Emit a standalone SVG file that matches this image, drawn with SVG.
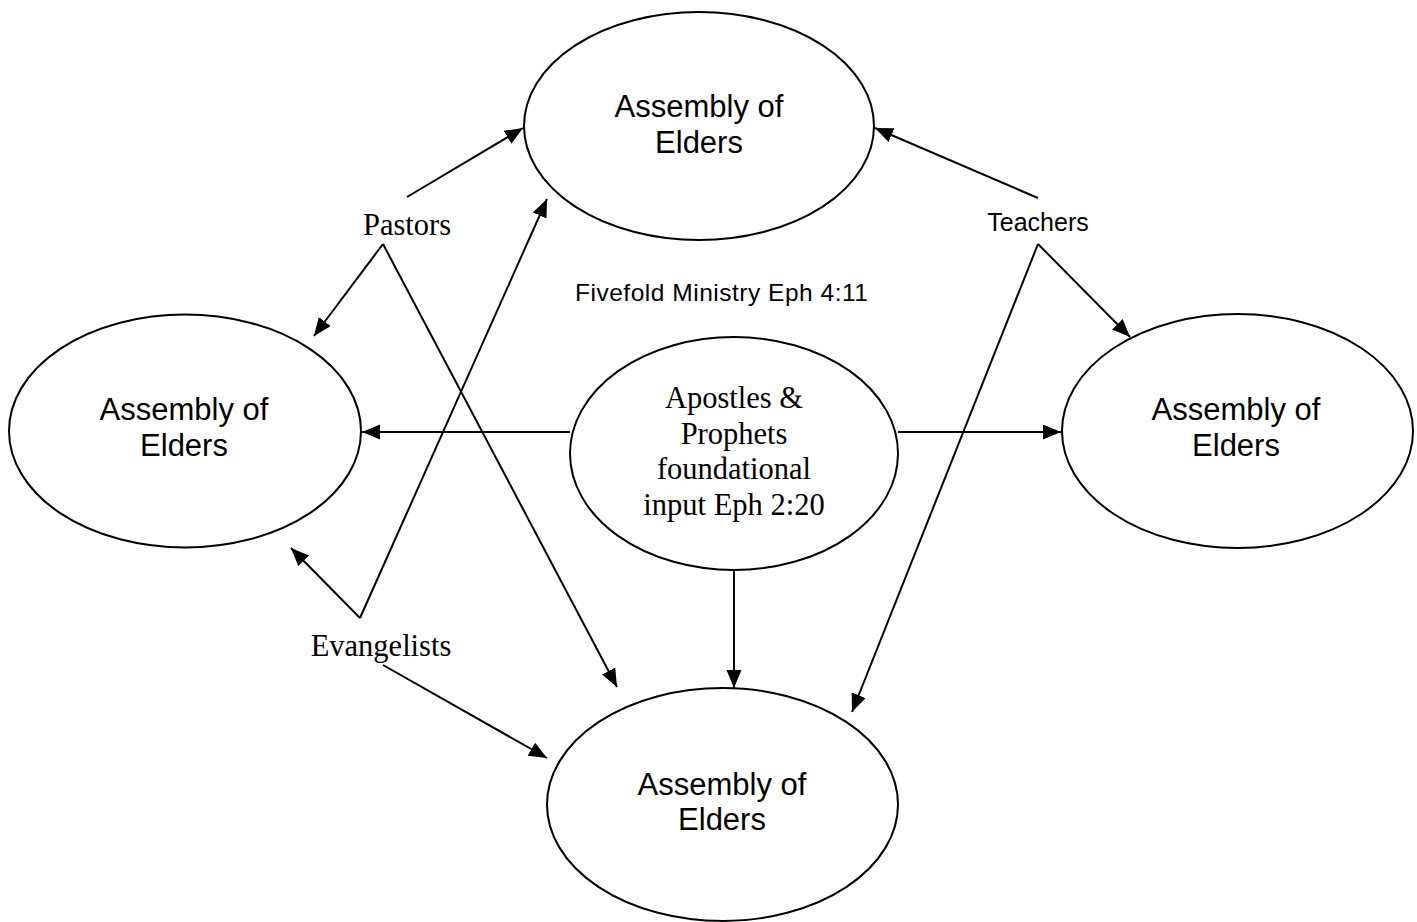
<svg xmlns="http://www.w3.org/2000/svg" width="1417" height="922" viewBox="0 0 1417 922">
<style>
.node ellipse{fill:#fff;stroke:#000;stroke-width:2}
.sans{font-family:"Liberation Sans",Arial,sans-serif;fill:#000}
.serif{font-family:"Liberation Serif","Times New Roman",serif;fill:#000}
.big{font-size:31px}
.lbl{font-size:30.5px}
#connectors line{stroke:#000;stroke-width:2;fill:none}
</style>
<defs>
<marker id="ah" markerUnits="userSpaceOnUse" markerWidth="20" markerHeight="16" refX="18" refY="7.5" orient="auto">
<path d="M0,0 L18,7.5 L0,15 z" fill="#000"/>
</marker>
</defs>
<rect width="1417" height="922" fill="#fff"/>
<g id="connectors">
<line x1="570" y1="432" x2="362" y2="432" marker-end="url(#ah)"/>
<line x1="898" y1="432" x2="1061" y2="432" marker-end="url(#ah)"/>
<line x1="734" y1="570" x2="734" y2="688" marker-end="url(#ah)"/>
<line x1="407" y1="197" x2="523" y2="128" marker-end="url(#ah)"/>
<line x1="383" y1="244" x2="314" y2="336" marker-end="url(#ah)"/>
<line x1="383" y1="244" x2="617" y2="687" marker-end="url(#ah)"/>
<line x1="360" y1="618" x2="291" y2="548" marker-end="url(#ah)"/>
<line x1="360" y1="618" x2="547" y2="199" marker-end="url(#ah)"/>
<line x1="383" y1="665" x2="547" y2="758" marker-end="url(#ah)"/>
<line x1="1038" y1="198" x2="875" y2="128" marker-end="url(#ah)"/>
<line x1="1038" y1="244" x2="1130" y2="337" marker-end="url(#ah)"/>
<line x1="1038" y1="244" x2="852" y2="712" marker-end="url(#ah)"/>
</g>
<g id="node-top" class="node">
<ellipse cx="699" cy="126" rx="175" ry="114"/>
<text class="sans big" x="699" y="117" text-anchor="middle">Assembly of</text>
<text class="sans big" x="699" y="153" text-anchor="middle">Elders</text>
</g>
<g id="node-left" class="node">
<ellipse cx="185" cy="431" rx="176" ry="116.5"/>
<text class="sans big" x="184" y="420" text-anchor="middle">Assembly of</text>
<text class="sans big" x="184" y="456" text-anchor="middle">Elders</text>
</g>
<g id="node-right" class="node">
<ellipse cx="1237.5" cy="431" rx="175.5" ry="117"/>
<text class="sans big" x="1236" y="420" text-anchor="middle">Assembly of</text>
<text class="sans big" x="1236" y="456" text-anchor="middle">Elders</text>
</g>
<g id="node-bottom" class="node">
<ellipse cx="722.5" cy="804.5" rx="175.5" ry="116.5"/>
<text class="sans big" x="722" y="795" text-anchor="middle">Assembly of</text>
<text class="sans big" x="722" y="830" text-anchor="middle">Elders</text>
</g>
<g id="node-center" class="node">
<ellipse cx="734" cy="453.5" rx="164" ry="116.5"/>
<text class="serif lbl" x="734" y="408" text-anchor="middle">Apostles &amp;</text>
<text class="serif lbl" x="734" y="444" text-anchor="middle">Prophets</text>
<text class="serif lbl" x="734" y="479" text-anchor="middle">foundational</text>
<text class="serif lbl" x="734" y="515" text-anchor="middle">input Eph 2:20</text>
</g>
<g id="label-pastors">
<text class="serif lbl" x="407" y="235" text-anchor="middle">Pastors</text>
</g>
<g id="label-evangelists">
<text class="serif lbl" x="381" y="656" text-anchor="middle">Evangelists</text>
</g>
<g id="label-teachers">
<text class="sans" font-size="25" x="1038" y="231" text-anchor="middle">Teachers</text>
</g>
<g id="label-fivefold">
<text class="sans" font-size="24.5" x="575" y="301" textLength="293" lengthAdjust="spacing">Fivefold Ministry Eph 4:11</text>
</g>
</svg>
